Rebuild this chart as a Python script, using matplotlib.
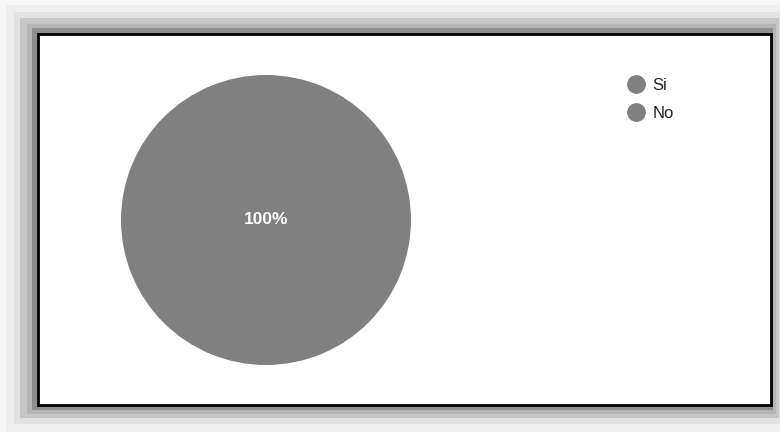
import matplotlib
matplotlib.use("Agg")
import matplotlib.pyplot as plt
from matplotlib.patches import Rectangle
from matplotlib.lines import Line2D

labels = ["Si", "No"]
values = [100, 0]
colors = ["#808080", "#808080"]

W, H = 780, 432
fig = plt.figure(figsize=(W / 100, H / 100), dpi=100)
fig.patch.set_facecolor("#f6f6f6")

def px_rect(x0, y0, x1, y1, color, z):
    fig.patches.append(Rectangle((x0 / W, 1 - y1 / H), (x1 - x0) / W, (y1 - y0) / H,
                                 transform=fig.transFigure, facecolor=color,
                                 edgecolor="none", zorder=z))

# shadow frame
px_rect(6, 5, 780, 432, "#eeeeee", 0)
px_rect(14, 12, 780, 424, "#e2e2e2", 0.5)
px_rect(20, 18, 779, 418, "#c6c6c6", 1)
px_rect(27, 24, 776, 414, "#b4b4b4", 2)
px_rect(32, 28, 773, 410, "#8e8e8e", 3)

# main box
box = fig.add_axes([38 / W, 1 - 405 / H, (771 - 38) / W, (405 - 34) / H])
box.set_facecolor("white")
box.set_xticks([])
box.set_yticks([])
for s in box.spines.values():
    s.set_color("black")
    s.set_linewidth(2)
box.set_zorder(5)

# pie
cx, cy, r = 266, 220, 145
pax = fig.add_axes([(cx - r) / W, 1 - (cy + r) / H, 2 * r / W, 2 * r / H])
pax.set_zorder(6)
wedges, texts, autotexts = pax.pie(
    values, colors=colors, startangle=90, counterclock=False,
    autopct=lambda p: f"{p:.0f}%" if p > 0 else "",
    pctdistance=0.0,
    wedgeprops=dict(linewidth=0),
    textprops=dict(color="white", fontsize=12.5, fontweight="bold",
                   family="Liberation Sans"))
pax.set_xlim(-1, 1)
pax.set_ylim(-1, 1)
pax.set_aspect("equal")
pax.axis("off")

# legend
handles = [Line2D([0], [0], marker="o", color="none", markerfacecolor=c,
                  markeredgecolor=c, markersize=12.5) for c in colors]
leg = fig.legend(handles, labels, loc="upper left",
                 bbox_to_anchor=(614 / W, 1 - 63 / H),
                 frameon=False, handlelength=0.8, handletextpad=0.6,
                 labelspacing=0.8, borderpad=0.4,
                 prop=dict(family="Liberation Sans", size=12))
for t in leg.get_texts():
    t.set_color("#222222")
leg.set_zorder(10)

fig.savefig("out.png", dpi=100, facecolor=fig.get_facecolor())
